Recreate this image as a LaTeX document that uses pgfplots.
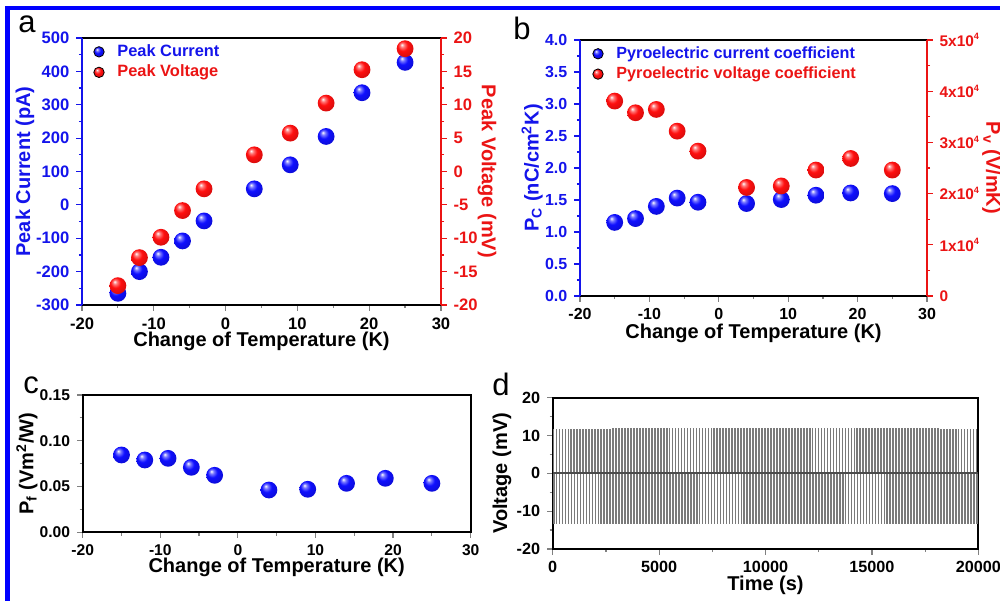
\documentclass[border=0pt]{standalone}
\usepackage{fontspec}
\setmainfont{Liberation Sans}
\usepackage{pgfplots}
\pgfplotsset{compat=1.18}
\definecolor{cblue}{RGB}{20,20,235}
\definecolor{cred}{RGB}{235,20,20}
\definecolor{frameblue}{RGB}{0,0,255}
\definecolor{bblue}{RGB}{15,15,255}
\definecolor{bred}{RGB}{255,15,15}
\pgfdeclareradialshading{shB}{\pgfpoint{-10bp}{12bp}}{color(0bp)=(white); color(6bp)=(white!45!bblue); color(15bp)=(bblue); color(32bp)=(bblue!82!black); color(50bp)=(bblue!50!black)}
\pgfdeclareradialshading{shR}{\pgfpoint{-10bp}{12bp}}{color(0bp)=(white); color(6bp)=(white!45!bred); color(15bp)=(bred); color(32bp)=(bred!82!black); color(50bp)=(bred!50!black)}
\pgfdeclareplotmark{ballB}{\pgfpathcircle{\pgfpointorigin}{\pgfplotmarksize}\pgfshadepath{shB}{0}\pgfusepath{}}
\pgfdeclareplotmark{ballR}{\pgfpathcircle{\pgfpointorigin}{\pgfplotmarksize}\pgfshadepath{shR}{0}\pgfusepath{}}
\newcommand{\sq}[1]{\raisebox{0.8ex}{\fontsize{4.6}{5}\selectfont #1}}
\pgfplotsset{
  panel/.style={
    scale only axis,
    tick align=outside,
    major tick length=2.8pt,
    minor tick length=1.6pt,
    every tick/.append style={line width=0.6pt},
    axis line style={line width=0.9pt},
    tick label style={font=\bfseries\fontsize{8.3}{9}\selectfont},
    label style={font=\bfseries\fontsize{10}{11}\selectfont},
    /pgf/number format/assume math mode=true,
    /pgf/number format/1000 sep={},
    legend style={draw=none, fill=none, font=\bfseries\fontsize{8.2}{9}\selectfont, row sep=-1.2pt},
    legend cell align=left,
  },
  ballb/.style={only marks, mark=ballB, mark size=4.2pt},
  ballr/.style={only marks, mark=ballR, mark size=4.2pt},
  limb/.style={legend image code/.code={\shade[shading=shB] (0.3cm,0pt) circle (2.6pt); \path (0.3cm+7pt,0pt);}},
  limr/.style={legend image code/.code={\shade[shading=shR] (0.3cm,0pt) circle (2.6pt); \path (0.3cm+7pt,0pt);}},
}
\begin{document}
\begin{tikzpicture}
\path[use as bounding box] (0,0) rectangle (500pt,300.5pt);
\fill[frameblue] (2.5pt,295.5pt) rectangle (500pt,297.5pt);
\fill[frameblue] (2.5pt,0pt) rectangle (5pt,297.5pt);

% panel letters
\node[anchor=base west, font=\fontsize{15.5}{16}\selectfont, inner sep=0pt] at (9pt,284pt) {a};
\node[anchor=base west, font=\fontsize{15.5}{16}\selectfont, inner sep=0pt] at (256.5pt,280.5pt) {b};
\node[anchor=base west, font=\fontsize{15.5}{16}\selectfont, inner sep=0pt] at (11.5pt,104pt) {c};
\node[anchor=base west, font=\fontsize{15.5}{16}\selectfont, inner sep=0pt] at (246pt,103pt) {d};

% ---------------- panel a ----------------
\begin{axis}[panel, at={(41pt,148pt)}, anchor=south west, width=179.5pt, height=133.5pt,
  xmin=-20, xmax=30, ymin=-300, ymax=500,
  xtick={-20,-10,0,10,20,30}, minor x tick num=1,
  ytick={-300,-200,-100,0,100,200,300,400,500}, minor y tick num=1,
  xtick pos=left, ytick pos=left,
  separate axis lines,
  x axis line style={black}, y axis line style={cblue},
  every y tick/.append style={cblue},
  yticklabel style={cblue},
  xlabel={Change of Temperature (K)},
  xlabel style={at={(axis description cs:0.5,-0.135)}, anchor=center},
  ylabel={Peak Current (pA)}, ylabel style={cblue, at={(axis description cs:-0.159,0.5)}, anchor=center},
  legend style={at={(0,1)}, anchor=north west, xshift=2.5pt, yshift=1pt},
]
\addplot[ballb, limb] coordinates {
 (-15,-265) (-12,-200) (-9,-157) (-6,-108) (-3,-48) (4,48) (9,120) (14,205) (19,336) (25,427)};
\addlegendentry{\textcolor{cblue}{Peak Current}}
\addlegendimage{limr}
\addlegendentry{\textcolor{cred}{Peak Voltage}}
\end{axis}
\begin{axis}[panel, at={(41pt,148pt)}, anchor=south west, width=179.5pt, height=133.5pt,
  xmin=-20, xmax=30, ymin=-20, ymax=20,
  axis x line=none, axis y line*=right,
  ytick={-20,-15,-10,-5,0,5,10,15,20}, minor y tick num=1,
  y axis line style={cred},
  every y tick/.append style={cred},
  yticklabel style={cred},
  ylabel={Peak Voltage (mV)}, ylabel style={cred, rotate=180, at={(axis description cs:1.128,0.5)}, anchor=center},
]
\addplot[ballr] coordinates {
 (-15,-17.1) (-12,-12.9) (-9,-9.85) (-6,-5.85) (-3,-2.6) (4,2.5) (9,5.75) (14,10.25) (19,15.25) (25,18.4)};
\end{axis}

% ---------------- panel b ----------------
\begin{axis}[panel, at={(290pt,152.5pt)}, anchor=south west, width=173.5pt, height=128pt,
  xmin=-20, xmax=30, ymin=0, ymax=4,
  xtick={-20,-10,0,10,20,30}, minor x tick num=1,
  ytick={0,0.5,1,1.5,2,2.5,3,3.5,4}, minor y tick num=1,
  xtick pos=left, ytick pos=left,
  separate axis lines,
  x axis line style={black}, y axis line style={cblue},
  every y tick/.append style={cblue},
  yticklabel style={cblue, /pgf/number format/.cd, fixed, fixed zerofill, precision=1},
  tick label style={font=\bfseries\fontsize{8}{9}\selectfont},
  xlabel={Change of Temperature (K)},
  xlabel style={at={(axis description cs:0.5,-0.1445)}, anchor=center},
  ylabel={P\textsubscript{C} (nC/cm\textsuperscript{2}K)}, ylabel style={cblue, at={(axis description cs:-0.138,0.5)}, anchor=center},
  legend style={at={(0,1)}, anchor=north west, xshift=3pt, yshift=1pt, font=\bfseries\fontsize{8.1}{9}\selectfont},
]
\addplot[ballb, limb] coordinates {
 (-15,1.15) (-12,1.21) (-9,1.40) (-6,1.53) (-3,1.465) (4,1.445) (9,1.507) (14,1.575) (19,1.61) (25,1.60)};
\addlegendentry{\textcolor{cblue}{Pyroelectric current coefficient}}
\addlegendimage{limr}
\addlegendentry{\textcolor{cred}{Pyroelectric voltage coefficient}}
\end{axis}
\begin{axis}[panel, at={(290pt,152.5pt)}, anchor=south west, width=173.5pt, height=128pt,
  xmin=-20, xmax=30, ymin=0, ymax=50000,
  axis x line=none, axis y line*=right,
  scaled y ticks=false,
  ytick={0,10000,20000,30000,40000,50000}, minor y tick num=1,
  yticklabels={0,1x10\sq{4},2x10\sq{4},3x10\sq{4},4x10\sq{4},5x10\sq{4}},
  tick label style={font=\bfseries\fontsize{7.7}{9}\selectfont},
  y axis line style={cred},
  every y tick/.append style={cred},
  yticklabel style={cred},
  ylabel={P\textsubscript{v} (V/mK)}, ylabel style={cred, rotate=180, at={(axis description cs:1.186,0.5)}, anchor=center},
]
\addplot[ballr] coordinates {
 (-15,38070) (-12,35790) (-9,36440) (-6,32200) (-3,28300) (4,21200) (9,21500) (14,24600) (19,26860) (25,24600)};
\end{axis}

% ---------------- panel c ----------------
\begin{axis}[panel, at={(41.35pt,34.35pt)}, anchor=south west, width=194pt, height=68.65pt,
  xmin=-20, xmax=30, ymin=0, ymax=0.15,
  xtick={-20,-10,0,10,20,30}, minor x tick num=1,
  ytick={0,0.05,0.10,0.15}, minor y tick num=1,
  xtick pos=left, ytick pos=left,
  scaled y ticks=false,
  yticklabel style={/pgf/number format/.cd, fixed, fixed zerofill, precision=2},
  tick label style={font=\bfseries\fontsize{7.8}{9}\selectfont},
  xlabel={Change of Temperature (K)},
  xlabel style={at={(axis description cs:0.5,-0.253)}, anchor=center},
  ylabel={P\textsubscript{f} (Vm\textsuperscript{2}/W)},
  ylabel style={at={(axis description cs:-0.1436,0.5)}, anchor=center},
]
\addplot[ballb] coordinates {
 (-15,0.0845) (-12,0.079) (-9,0.0808) (-6,0.071) (-3,0.0623) (4,0.0462) (9,0.047) (14,0.0535) (19,0.059) (25,0.0535)};
\end{axis}

% ---------------- panel d ----------------
\begin{axis}[panel, at={(276.35pt,26pt)}, anchor=south west, width=212.8pt, height=75.65pt,
  xmin=0, xmax=20000, ymin=-20, ymax=20,
  xtick={0,5000,10000,15000,20000}, minor x tick num=1,
  ytick={-20,-10,0,10,20}, minor y tick num=1,
  xtick pos=left, ytick pos=left,
  scaled x ticks=false,
  tick label style={font=\bfseries\fontsize{8.1}{9}\selectfont},
  xlabel={Time (s)},
  xlabel style={at={(axis description cs:0.5,-0.238)}, anchor=center},
  ylabel={Voltage (mV)},
  ylabel style={at={(axis description cs:-0.119,0.5)}, anchor=center},
]
\addplot[ycomb, black!52, line width=0.85pt] coordinates {
(35,11.8)(45,-13.3)(175,11.8)(185,-13.3)(315,11.8)(325,-13.3)(455,11.8)(465,-13.3)(595,11.8)(605,-13.3)
(735,11.8)(745,-13.3)(875,11.8)(885,-13.3)(1015,11.8)(1025,-13.3)(1155,11.8)(1165,-13.3)(1295,11.8)(1305,-13.3)
(1435,11.8)(1445,-13.3)(1575,11.8)(1585,-13.3)(1715,11.8)(1725,-13.3)(1855,11.8)(1865,-13.3)(1995,11.8)(2005,-13.3)
(2135,11.8)(2145,-13.3)(2275,11.8)(2285,-13.3)(2415,11.8)(2425,-13.3)(2555,11.8)(2565,-13.3)(2695,11.8)(2705,-13.3)
(2835,11.9)(2845,-13.3)(2975,11.9)(2985,-13.3)(3115,11.9)(3125,-13.3)(3255,11.9)(3265,-13.3)(3395,11.9)(3405,-13.3)
(3535,11.9)(3545,-13.3)(3675,11.9)(3685,-13.3)(3815,11.9)(3825,-13.3)(3955,11.9)(3965,-13.3)(4095,11.9)(4105,-13.3)
(4235,11.9)(4245,-13.3)(4375,11.9)(4385,-13.3)(4515,11.9)(4525,-13.3)(4655,11.9)(4665,-13.3)(4795,11.9)(4805,-13.3)
(4935,12.0)(4945,-13.3)(5075,12.0)(5085,-13.3)(5215,12.0)(5225,-13.3)(5355,12.0)(5365,-13.3)(5495,12.0)(5505,-13.3)
(5635,12.0)(5645,-13.3)(5775,12.0)(5785,-13.3)(5915,12.0)(5925,-13.3)(6055,12.0)(6065,-13.3)(6195,12.0)(6205,-13.3)
(6335,12.0)(6345,-13.3)(6475,12.0)(6485,-13.3)(6615,12.0)(6625,-13.3)(6755,12.0)(6765,-13.3)(6895,12.0)(6905,-13.3)
(7035,12.1)(7045,-13.3)(7175,12.1)(7185,-13.3)(7315,12.1)(7325,-13.3)(7455,12.1)(7465,-13.3)(7595,12.1)(7605,-13.3)
(7735,12.1)(7745,-13.3)(7875,12.1)(7885,-13.3)(8015,12.1)(8025,-13.3)(8155,12.1)(8165,-13.3)(8295,12.1)(8305,-13.3)
(8435,12.1)(8445,-13.3)(8575,12.1)(8585,-13.3)(8715,12.1)(8725,-13.3)(8855,12.1)(8865,-13.3)(8995,12.1)(9005,-13.3)
(9135,12.1)(9145,-13.3)(9275,12.1)(9285,-13.3)(9415,12.1)(9425,-13.3)(9555,12.1)(9565,-13.3)(9695,12.1)(9705,-13.3)
(9835,12.1)(9845,-13.3)(9975,12.1)(9985,-13.3)(10115,12.1)(10125,-13.3)(10255,12.1)(10265,-13.3)(10395,12.1)(10405,-13.3)
(10535,12.1)(10545,-13.3)(10675,12.1)(10685,-13.3)(10815,12.1)(10825,-13.3)(10955,12.1)(10965,-13.3)(11095,12.1)(11105,-13.3)
(11235,12.1)(11245,-13.3)(11375,12.1)(11385,-13.3)(11515,12.1)(11525,-13.3)(11655,12.1)(11665,-13.3)(11795,12.1)(11805,-13.3)
(11935,12.1)(11945,-13.3)(12075,12.1)(12085,-13.3)(12215,12.1)(12225,-13.3)(12355,12.1)(12365,-13.3)(12495,12.1)(12505,-13.3)
(12635,12.0)(12645,-13.3)(12775,12.0)(12785,-13.3)(12915,12.0)(12925,-13.3)(13055,12.0)(13065,-13.3)(13195,12.0)(13205,-13.3)
(13335,12.0)(13345,-13.4)(13475,12.0)(13485,-13.4)(13615,12.0)(13625,-13.4)(13755,12.0)(13765,-13.4)(13895,12.0)(13905,-13.4)
(14035,12.0)(14045,-13.4)(14175,12.0)(14185,-13.4)(14315,12.0)(14325,-13.4)(14455,12.0)(14465,-13.4)(14595,12.0)(14605,-13.4)
(14735,12.0)(14745,-13.4)(14875,12.0)(14885,-13.4)(15015,12.0)(15025,-13.4)(15155,12.0)(15165,-13.4)(15295,12.0)(15305,-13.4)
(15435,11.9)(15445,-13.4)(15575,11.9)(15585,-13.4)(15715,11.9)(15725,-13.4)(15855,11.9)(15865,-13.4)(15995,11.9)(16005,-13.4)
(16135,11.9)(16145,-13.4)(16275,11.9)(16285,-13.4)(16415,11.9)(16425,-13.4)(16555,11.9)(16565,-13.4)(16695,11.9)(16705,-13.4)
(16835,11.9)(16845,-13.3)(16975,11.9)(16985,-13.3)(17115,11.9)(17125,-13.3)(17255,11.9)(17265,-13.3)(17395,11.9)(17405,-13.3)
(17535,11.9)(17545,-13.3)(17675,11.9)(17685,-13.3)(17815,11.9)(17825,-13.3)(17955,11.9)(17965,-13.3)(18095,11.9)(18105,-13.3)
(18235,11.8)(18245,-13.3)(18375,11.8)(18385,-13.3)(18515,11.8)(18525,-13.3)(18655,11.8)(18665,-13.3)(18795,11.8)(18805,-13.3)
(18935,11.8)(18945,-13.3)(19075,11.8)(19085,-13.3)(19215,11.8)(19225,-13.3)(19355,11.8)(19365,-13.3)(19495,11.8)(19505,-13.3)
(19635,11.8)(19645,-13.3)(19775,11.8)(19785,-13.3)(19915,11.8)(19925,-13.3)
};
\addplot[black!70, line width=1.1pt] coordinates {(0,0) (19985,0)};
\end{axis}
\end{tikzpicture}
\end{document}
